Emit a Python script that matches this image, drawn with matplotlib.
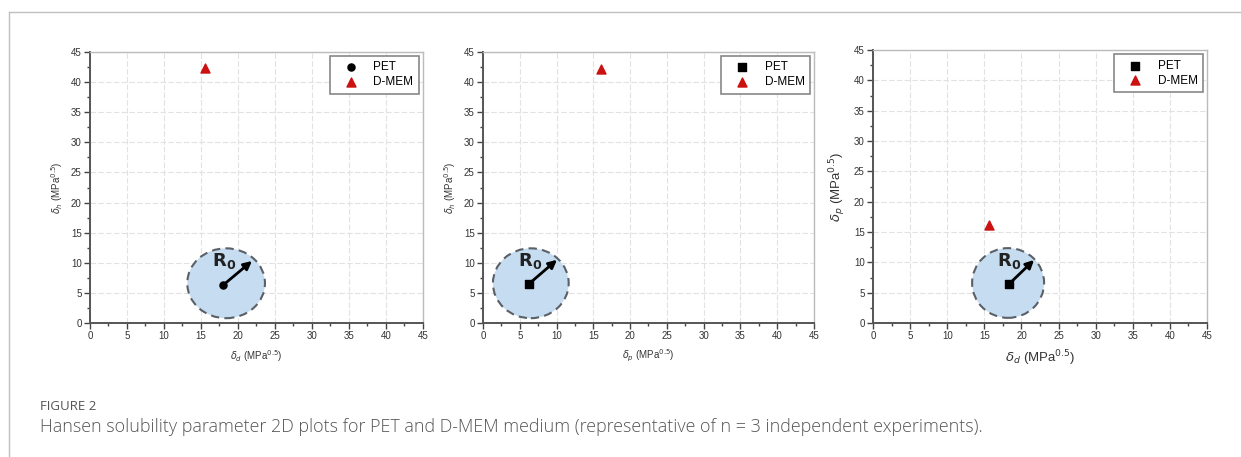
import matplotlib
matplotlib.use('Agg')
import matplotlib.pyplot as plt
from matplotlib.patches import Ellipse
from matplotlib.lines import Line2D

# Data (MPa^0.5)
pet_x = [18.0, 6.25, 18.3]
pet_y = [6.3, 6.5, 6.4]
pet_markers = ['o', 's', 's']
dmem_x = [15.5, 16.0, 15.6]
dmem_y = [42.4, 42.2, 16.2]
# sphere projection (centre, width, height) and R0 arrow tip
sphere_cx = [18.4, 6.5, 18.2]
sphere_cy = [6.6, 6.6, 6.6]
sphere_w = [10.5, 10.3, 9.7]
sphere_h = [11.6, 11.6, 11.5]
tip_x = [21.9, 10.06, 21.7]
tip_y = [10.3, 10.5, 10.4]
x_labels = [r'$\delta_d$ (MPa$^{0.5}$)', r'$\delta_p$ (MPa$^{0.5}$)', r'$\delta_d$ (MPa$^{0.5}$)']
y_labels = [r'$\delta_h$ (MPa$^{0.5}$)', r'$\delta_h$ (MPa$^{0.5}$)', r'$\delta_p$ (MPa$^{0.5}$)']
label_sizes = [7, 7, 9.5]
ticks = [0, 5, 10, 15, 20, 25, 30, 35, 40, 45]

plt.rcParams['font.family'] = ['Liberation Sans', 'DejaVu Sans']
plt.rcParams['mathtext.fontset'] = 'dejavusans'

fig = plt.figure(figsize=(12.41, 4.57), dpi=100)

# axes rectangles (figure fraction)
rects = [
    [0.0725, 0.2932, 0.2683, 0.593],
    [0.3892, 0.2932, 0.2667, 0.593],
    [0.7035, 0.2932, 0.2691, 0.597],
]

for i, r in enumerate(rects):
    ax = fig.add_axes(r)
    ax.set_xlim(0, 45)
    ax.set_ylim(0, 45)
    ax.set_xticks(ticks)
    ax.set_yticks(ticks)
    ax.set_xticks([t + 2.5 for t in ticks[:-1]], minor=True)
    ax.set_yticks([t + 2.5 for t in ticks[:-1]], minor=True)
    ax.grid(True, which='major', color='#e2e2e2', linestyle=(0, (5, 2)), linewidth=0.8)
    ax.set_axisbelow(True)
    ax.tick_params(which='major', direction='out', length=4, width=1, colors='#444444',
                   labelsize=7, labelcolor='#333333', pad=2)
    ax.tick_params(which='minor', direction='out', length=2, width=1, colors='#444444')
    for s in ['left', 'bottom']:
        ax.spines[s].set_color('#555555')
        ax.spines[s].set_linewidth(1.4)
    for s in ['top', 'right']:
        ax.spines[s].set_color('#bbbbbb')
        ax.spines[s].set_linewidth(1.0)

    ell = Ellipse((sphere_cx[i], sphere_cy[i]), sphere_w[i], sphere_h[i],
                  facecolor='#c6dcf0', edgecolor='#5a6068', linestyle=(0, (4, 2.5)),
                  linewidth=1.5, zorder=2)
    ax.add_patch(ell)

    ax.annotate('', xy=(tip_x[i], tip_y[i]), xytext=(pet_x[i], pet_y[i]),
                arrowprops=dict(arrowstyle='-|>', color='black', lw=2,
                                mutation_scale=12, shrinkA=0, shrinkB=0), zorder=4)
    ax.text(pet_x[i] + 0.1, 10.3, r'$\mathbf{R_0}$', fontsize=13, color='#222222',
            ha='center', va='center', zorder=5)

    ax.scatter([pet_x[i]], [pet_y[i]], marker=pet_markers[i], s=26, color='black',
               zorder=5, label='PET')
    ax.scatter([dmem_x[i]], [dmem_y[i]], marker='^', s=42, color='#cc1111',
               zorder=5, label='D-MEM')

    leg = ax.legend(loc='upper right', fontsize=8.5, frameon=True, fancybox=False,
                    edgecolor='#888888', framealpha=1, borderaxespad=0.35,
                    handletextpad=0.6, borderpad=0.45, labelspacing=0.25,
                    handlelength=2.6)
    leg.get_frame().set_linewidth(1.2)

    ax.set_xlabel(x_labels[i], fontsize=label_sizes[i], color='#333333', labelpad=5)
    ax.set_ylabel(y_labels[i], fontsize=label_sizes[i], color='#333333', labelpad=4)

# page frame lines
fig.add_artist(Line2D([9 / 1241, 1], [1 - 12 / 457, 1 - 12 / 457],
                      transform=fig.transFigure, color='#c0c0c0', lw=1))
fig.add_artist(Line2D([9 / 1241, 9 / 1241], [0, 1 - 12 / 457],
                      transform=fig.transFigure, color='#c0c0c0', lw=1))

fig.text(40 / 1241, 1 - 406 / 457, 'FIGURE 2', fontsize=9.5, color='#555555',
         family=['Open Sans', 'DejaVu Sans'], va='center')
fig.text(40 / 1241, 1 - 427 / 457,
         'Hansen solubility parameter 2D plots for PET and D-MEM medium '
         '(representative of n = 3 independent experiments).',
         fontsize=12.9, color='#555555', family=['Open Sans', 'DejaVu Sans'],
         fontweight='light', va='center')

fig.savefig('out.png', dpi=100)
